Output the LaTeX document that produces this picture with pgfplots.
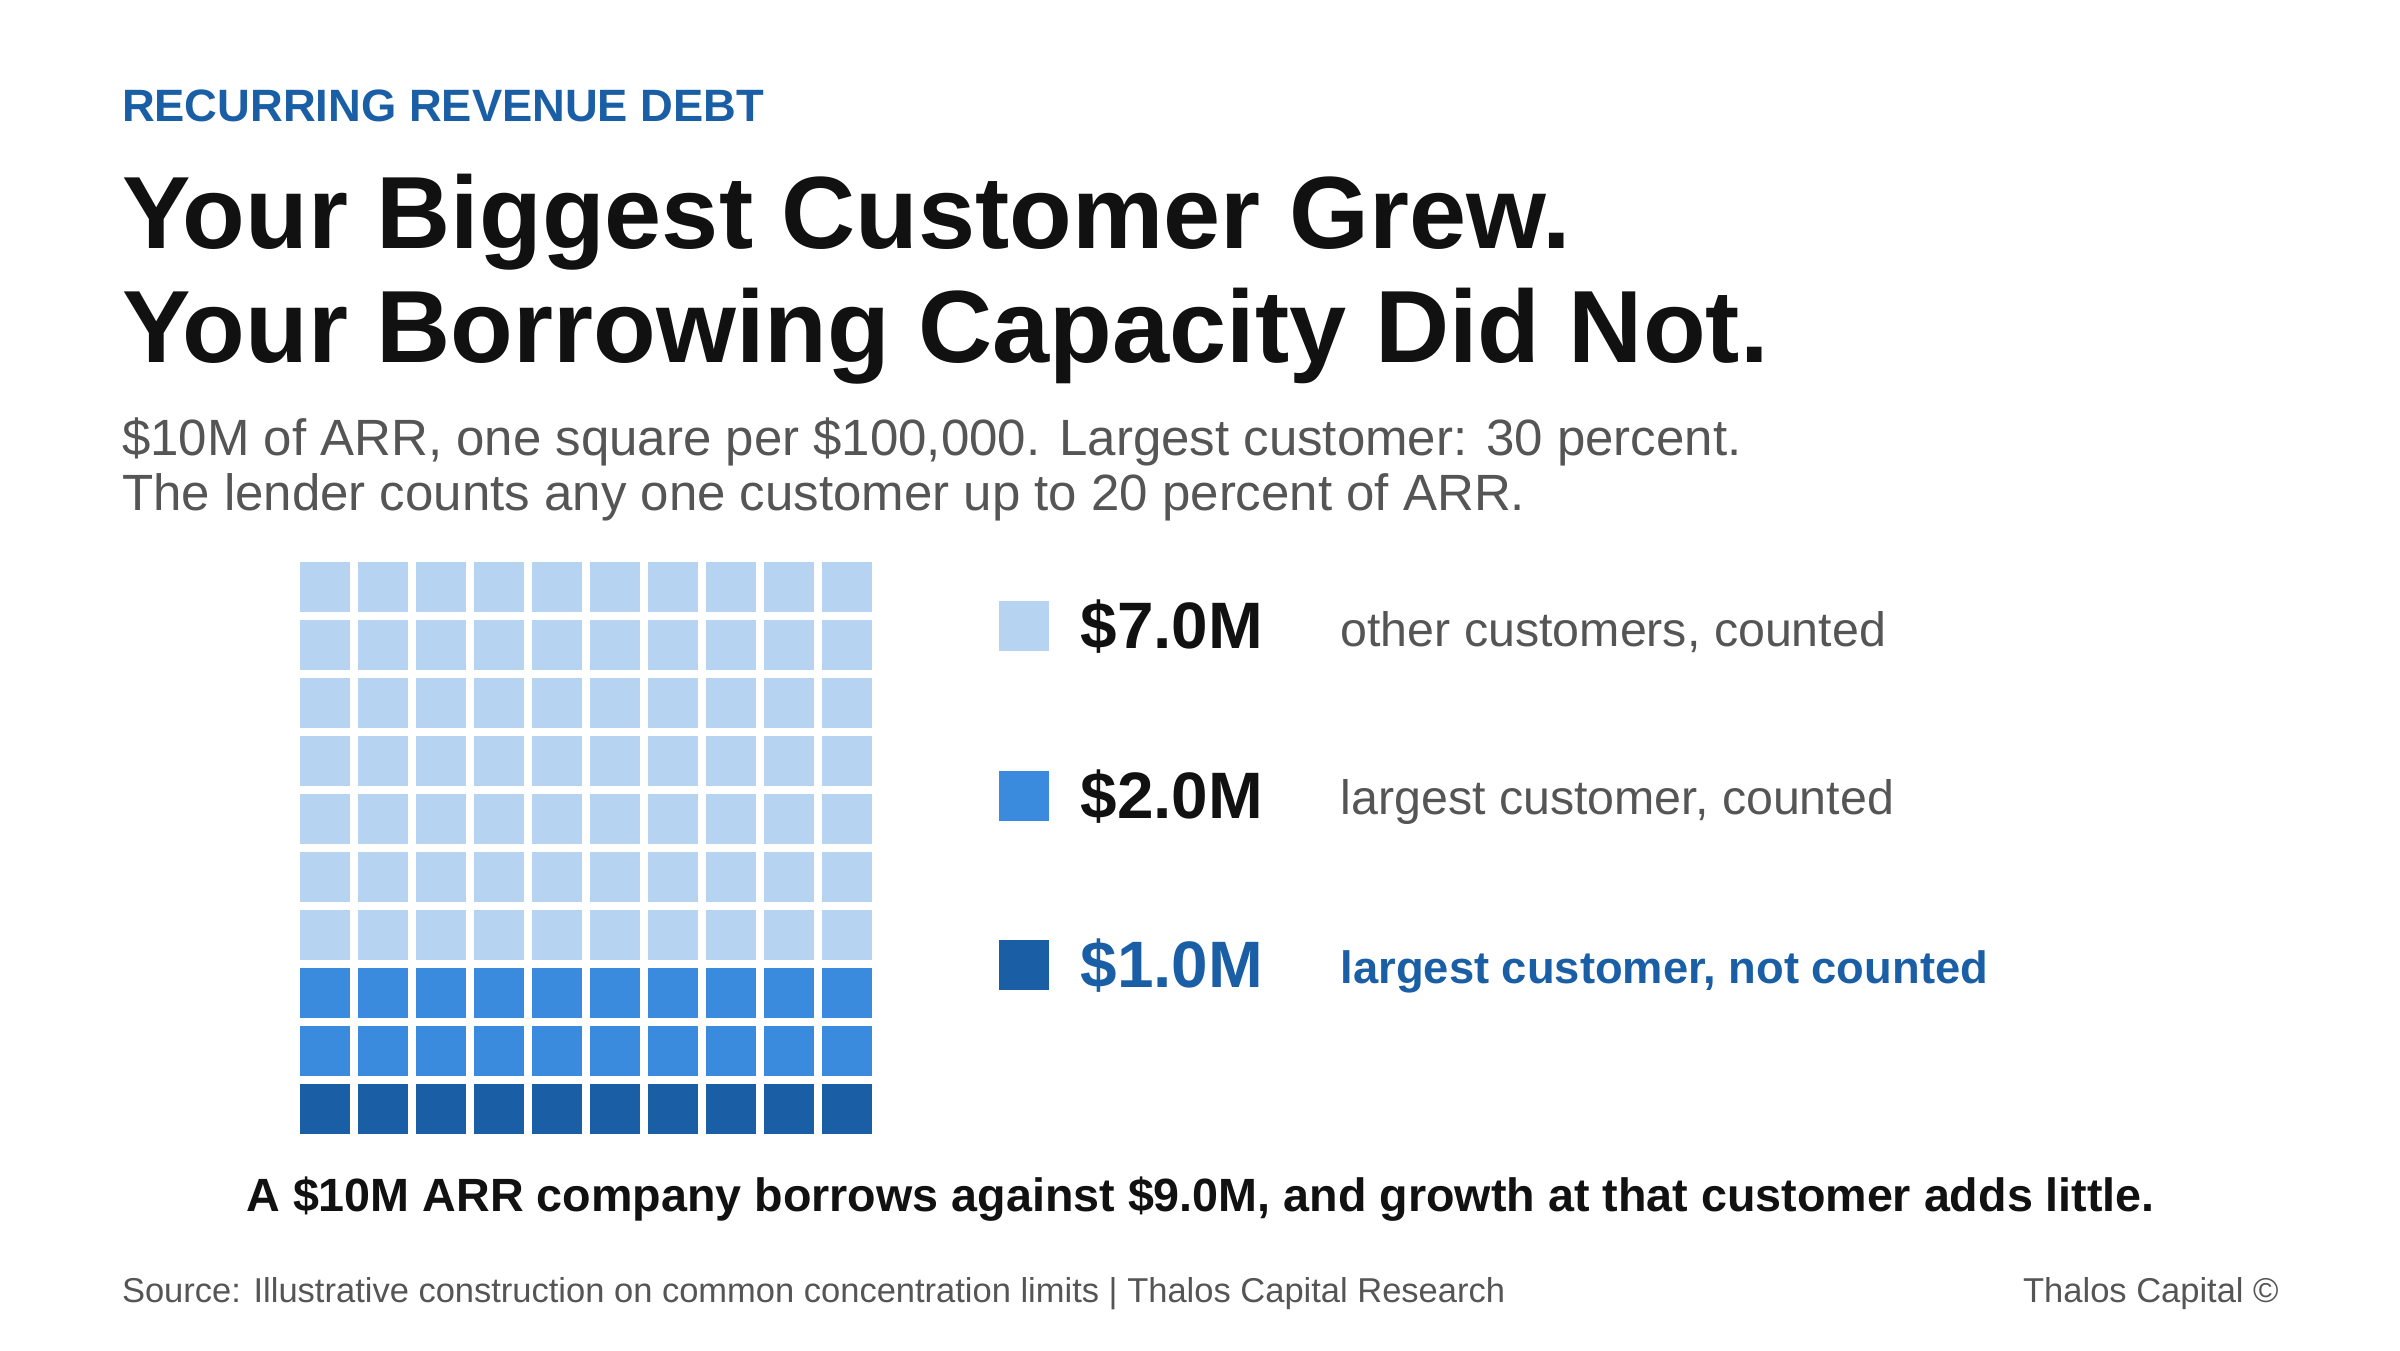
\documentclass[border=0pt]{standalone}
\usepackage{pgfplots}
\pgfplotsset{compat=1.18}
\usepackage{fontspec}
\setmainfont{Liberation Sans}

\definecolor{light}{HTML}{B6D4F2}
\definecolor{mid}{HTML}{3A8ADD}
\definecolor{dark}{HTML}{1A5EA5}
\definecolor{ink}{HTML}{111111}
\definecolor{grey}{HTML}{555555}

% one waffle cell, 50 x 50 px at 0.3pt per px
\pgfdeclareplotmark{cell}{%
  \pgfpathrectangle{\pgfpoint{-7.5pt}{-7.5pt}}{\pgfpoint{15pt}{15pt}}%
  \pgfusepathqfill}

\newcommand\fs[1]{\fontsize{#1}{#1}\selectfont}
\tikzset{lab/.style={inner sep=0pt, outer sep=0pt, anchor=base west}}

\begin{document}
\begin{tikzpicture}
  \fill[white] (0,0) rectangle (720pt,405pt);

  % waffle: one cell per $100,000 of ARR
  \begin{axis}[
      at={(88.8pt,63.5pt)}, anchor=south west,
      x=17.4pt, y=17.4pt,
      xmin=-0.5, xmax=9.5, ymin=-0.5, ymax=9.5,
      hide axis, clip=false,
    ]
    % largest customer, not counted ($1.0M)
    \addplot[only marks, mark=cell, color=dark] coordinates {
        (0,0)(1,0)(2,0)(3,0)(4,0)(5,0)(6,0)(7,0)(8,0)(9,0)
      };
    % largest customer, counted ($2.0M)
    \addplot[only marks, mark=cell, color=mid] coordinates {
        (0,1)(1,1)(2,1)(3,1)(4,1)(5,1)(6,1)(7,1)(8,1)(9,1)
        (0,2)(1,2)(2,2)(3,2)(4,2)(5,2)(6,2)(7,2)(8,2)(9,2)
      };
    % other customers, counted ($7.0M)
    \addplot[only marks, mark=cell, color=light] coordinates {
        (0,3)(1,3)(2,3)(3,3)(4,3)(5,3)(6,3)(7,3)(8,3)(9,3)
        (0,4)(1,4)(2,4)(3,4)(4,4)(5,4)(6,4)(7,4)(8,4)(9,4)
        (0,5)(1,5)(2,5)(3,5)(4,5)(5,5)(6,5)(7,5)(8,5)(9,5)
        (0,6)(1,6)(2,6)(3,6)(4,6)(5,6)(6,6)(7,6)(8,6)(9,6)
        (0,7)(1,7)(2,7)(3,7)(4,7)(5,7)(6,7)(7,7)(8,7)(9,7)
        (0,8)(1,8)(2,8)(3,8)(4,8)(5,8)(6,8)(7,8)(8,8)(9,8)
        (0,9)(1,9)(2,9)(3,9)(4,9)(5,9)(6,9)(7,9)(8,9)(9,9)
      };
  \end{axis}

  % canvas axis in pt: legend swatches and all the text
  \begin{axis}[
      at={(0pt,0pt)}, anchor=south west,
      x=1pt, y=1pt,
      xmin=0, xmax=720, ymin=0, ymax=405,
      hide axis, clip=false,
    ]
    \addplot[only marks, mark=cell, color=light] coordinates {(307.1,217.2)};
    \addplot[only marks, mark=cell, color=mid] coordinates {(307.1,166.3)};
    \addplot[only marks, mark=cell, color=dark] coordinates {(307.1,115.4)};

    \node[lab, font=\bfseries\fs{19.7}, text=ink] at (axis cs:324.2,210.5) {\$7.0M};
    \node[lab, font=\bfseries\fs{19.7}, text=ink] at (axis cs:324.2,159.6) {\$2.0M};
    \node[lab, font=\bfseries\fs{19.7}, text=dark] at (axis cs:324.2,108.7) {\$1.0M};
    \node[lab, font=\fs{14.5}, text=grey] at (axis cs:402.2,211.2) {other customers, counted};
    \node[lab, font=\fs{14.5}, text=grey] at (axis cs:402.2,160.8) {largest customer, counted};
    \node[lab, font=\bfseries\fs{13.6}, text=dark] at (axis cs:402.2,110.0) {largest customer, not counted};

    \node[lab, font=\bfseries\fs{13.6}, text=dark] at (axis cs:36.6,368.4) {RECURRING REVENUE DEBT};
    \node[lab, font=\bfseries\fs{30.8}, text=ink] at (axis cs:36.6,330.3) {Your Biggest Customer Grew.};
    \node[lab, font=\bfseries\fs{30.8}, text=ink] at (axis cs:36.6,296.1) {Your Borrowing Capacity Did Not.};
    \node[lab, font=\fs{15.3}, text=grey] at (axis cs:36.6,268.4) {\$10M of ARR, one square per \$100,000. Largest customer: 30 percent.};
    \node[lab, font=\fs{15.3}, text=grey] at (axis cs:36.6,251.9) {The lender counts any one customer up to 20 percent of ARR.};

    \node[lab, font=\bfseries\fs{14}, text=ink, anchor=base] at (axis cs:360.2,41.7) {A \$10M ARR company borrows against \$9.0M, and growth at that customer adds little.};
    \node[lab, font=\fs{10.35}, text=grey] at (axis cs:36.6,14.2) {Source: Illustrative construction on common concentration limits | Thalos Capital Research};
    \node[lab, font=\fs{10.35}, text=grey, anchor=base east] at (axis cs:683.6,14.2) {Thalos Capital ©};
  \end{axis}
\end{tikzpicture}
\end{document}
